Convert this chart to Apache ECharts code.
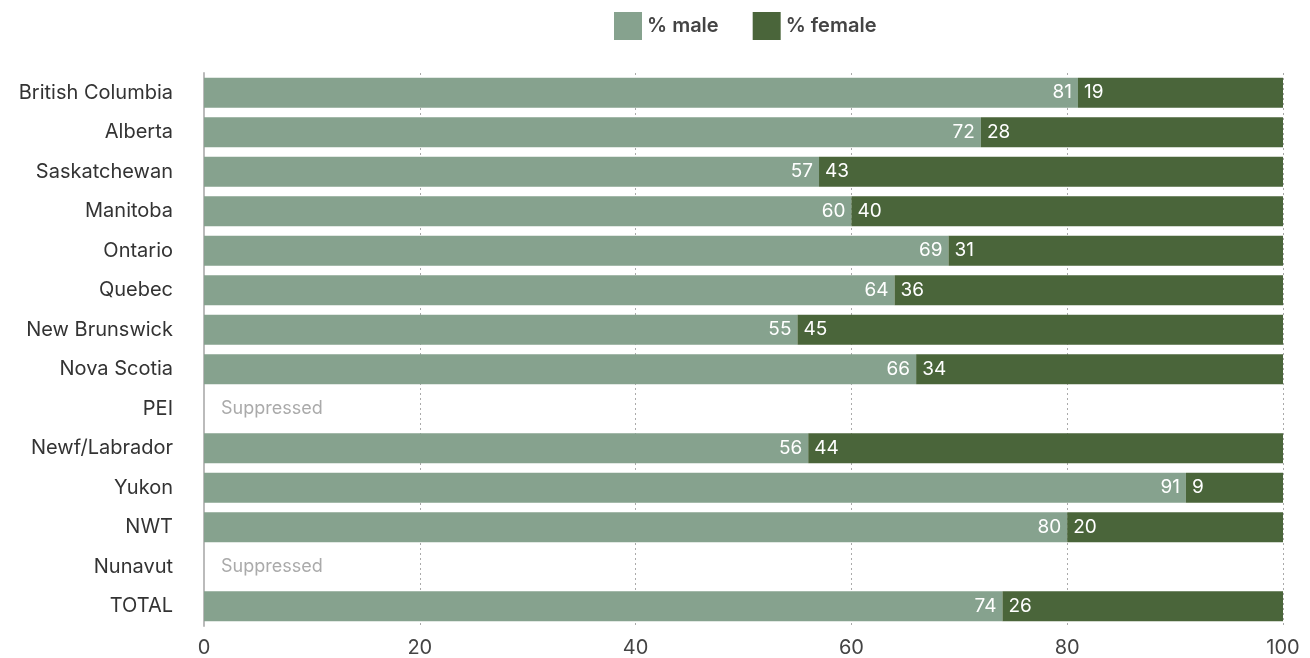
<!DOCTYPE html>
<html><head><meta charset="utf-8">
<script src="https://cdn.jsdelivr.net/npm/echarts@6/dist/echarts.min.js"></script>
<style>html,body{margin:0;padding:0;background:#fff}#c{width:1310px;height:658px}</style>
</head><body><div id="c"></div>
<script>
const categories = ["British Columbia","Alberta","Saskatchewan","Manitoba","Ontario","Quebec","New Brunswick","Nova Scotia","PEI","Newf/Labrador","Yukon","NWT","Nunavut","TOTAL"];
const male =   [81,72,57,60,69,64,55,66,null,56,91,80,null,74];
const female = [19,28,43,40,31,36,45,34,null,44,9,20,null,26];
const suppressed = categories.map((c,i)=> male[i]===null ? 100 : null);
const xTicks = [0,20,40,60,80,100];
const FONT = "Inter, 'Noto Sans', sans-serif";
const chart = echarts.init(document.getElementById('c'));
chart.setOption({
  animation:false,
  textStyle:{fontFamily:FONT},
  legend:{data:['% male','% female'],top:7,left:609,itemWidth:28,itemHeight:28,itemGap:34,
    textStyle:{fontSize:20,fontWeight:600,color:'#444',fontFamily:FONT},icon:'rect'},
  grid:{left:204,right:27,top:73,bottom:32,containLabel:false},
  xAxis:{type:'value',min:0,max:100,interval:20,
    axisLine:{show:false},axisTick:{show:false},
    axisLabel:{fontSize:20,color:'#444',margin:12,fontFamily:FONT,formatter:v=>xTicks.includes(v)?String(v):''},
    splitLine:{show:true,lineStyle:{type:[2,3],color:'#aaa',width:1}}},
  yAxis:{type:'category',data:categories,inverse:true,
    axisLine:{show:true,lineStyle:{color:'#bbb',width:2}},axisTick:{show:false},
    axisLabel:{fontSize:20,color:'#333',margin:31,fontFamily:FONT}},
  series:[
    {name:'% male',type:'bar',stack:'a',data:male,barCategoryGap:'24%',
     itemStyle:{color:'#86a28e'},
     label:{show:true,position:'insideRight',color:'#fff',fontSize:19,distance:6,fontFamily:FONT}},
    {name:'% female',type:'bar',stack:'a',data:female,
     itemStyle:{color:'#4a653a'},
     label:{show:true,position:'insideLeft',color:'#fff',fontSize:19,distance:6,fontFamily:FONT}},
    {name:'sup',type:'bar',data:suppressed,barGap:'-100%',silent:true,
     itemStyle:{color:'rgba(0,0,0,0)'},
     label:{show:true,position:'insideLeft',formatter:'Suppressed',color:'#aaa',fontSize:18,distance:17,fontFamily:FONT}}
  ]
});
</script></body></html>
